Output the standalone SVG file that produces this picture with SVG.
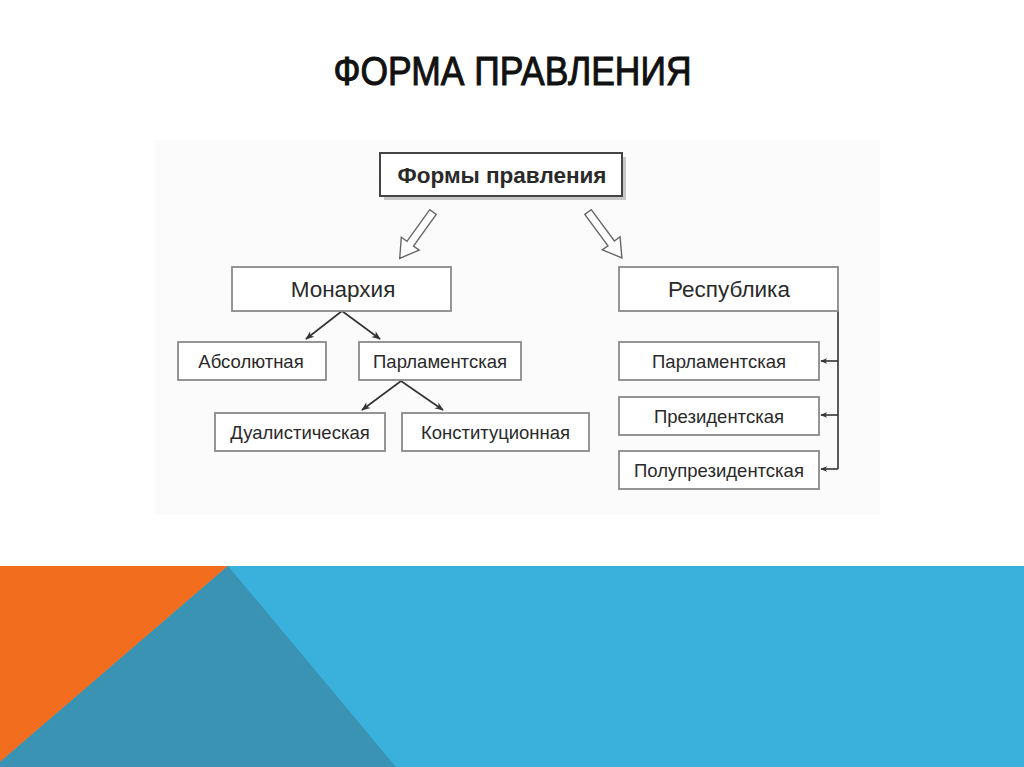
<svg xmlns="http://www.w3.org/2000/svg" width="1024" height="767" viewBox="0 0 1024 767">
<defs>
<style>
.box{fill:#fff;stroke:#8a8a8a;stroke-width:1.8}
.shadow{fill:#c8c8c8}
.t{font-family:"Liberation Sans",Arial,sans-serif;fill:#2a2a2a;text-anchor:middle}
.s{font-size:18.5px}
.conn{stroke:#333;stroke-width:1.6;fill:none}
.hollow{fill:#fff;stroke:#666;stroke-width:1.4;stroke-linejoin:miter}
</style>
<marker id="ah" viewBox="0 0 10 10" refX="9" refY="5" markerWidth="7" markerHeight="7" orient="auto" markerUnits="userSpaceOnUse">
<path d="M0,1 L10,5 L0,9 L3,5 z" fill="#333"/>
</marker>
<marker id="ah2" viewBox="0 0 10 10" refX="9" refY="5" markerWidth="9" markerHeight="9" orient="auto" markerUnits="userSpaceOnUse">
<path d="M0,1 L10,5 L0,9 L3,5 z" fill="#333"/>
</marker>
</defs>
<rect width="1024" height="767" fill="#fff"/>
<rect x="155" y="140" width="725" height="375" fill="#fbfbfb"/>
<text x="512.5" y="85" font-family="'Liberation Sans',Arial,sans-serif" font-size="40" fill="#111" stroke="#111" stroke-width="1" text-anchor="middle" textLength="358" lengthAdjust="spacingAndGlyphs">ФОРМА ПРАВЛЕНИЯ</text>

<g id="connectors">
<polygon class="hollow" points="0,-4 39,-4 39,-11 57,0 39,11 39,4 0,4" transform="translate(433,212) rotate(125.7)"/>
<polygon class="hollow" points="0,-4 39,-4 39,-11 57,0 39,11 39,4 0,4" transform="translate(588,212) rotate(53.5)"/>
<line class="conn" x1="342" y1="311" x2="306" y2="339" marker-end="url(#ah2)"/>
<line class="conn" x1="342" y1="311" x2="380" y2="339" marker-end="url(#ah2)"/>
<line class="conn" x1="401" y1="381" x2="362" y2="410" marker-end="url(#ah2)"/>
<line class="conn" x1="401" y1="381" x2="443" y2="410" marker-end="url(#ah2)"/>
<polyline class="conn" points="838,311 838,469"/>
<line class="conn" x1="838" y1="361" x2="821" y2="361" marker-end="url(#ah)"/>
<line class="conn" x1="838" y1="415" x2="821" y2="415" marker-end="url(#ah)"/>
<line class="conn" x1="838" y1="469" x2="821" y2="469" marker-end="url(#ah)"/>
</g>

<g id="root">
<rect x="384" y="157" width="242" height="43" class="shadow"/>
<rect x="380" y="153" width="242" height="43" fill="#fff" stroke="#444" stroke-width="2"/>
<text x="502" y="183" class="t" font-size="22.5" font-weight="bold">Формы правления</text>
</g>
<g id="monarchy">
<rect x="232" y="267" width="219" height="44" class="box"/>
<text x="343" y="297" class="t" font-size="22.5">Монархия</text>
</g>
<g id="republic">
<rect x="619" y="267" width="219" height="44" class="box"/>
<text x="729" y="297" class="t" font-size="22.5">Республика</text>
</g>
<g id="absolute">
<rect x="178" y="342" width="148" height="38" class="box"/>
<text x="251" y="368" class="t s">Абсолютная</text>
</g>
<g id="parl-mon">
<rect x="359" y="342" width="162" height="38" class="box"/>
<text x="440" y="368" class="t s">Парламентская</text>
</g>
<g id="dualist">
<rect x="215" y="413" width="170" height="38" class="box"/>
<text x="300" y="439" class="t s">Дуалистическая</text>
</g>
<g id="constit">
<rect x="402" y="413" width="187" height="38" class="box"/>
<text x="495.5" y="439" class="t s">Конституционная</text>
</g>
<g id="parl-rep">
<rect x="619" y="342" width="200" height="38" class="box"/>
<text x="719" y="368" class="t s">Парламентская</text>
</g>
<g id="pres">
<rect x="619" y="397" width="200" height="38" class="box"/>
<text x="719" y="423" class="t s">Президентская</text>
</g>
<g id="semipres">
<rect x="619" y="451" width="200" height="38" class="box"/>
<text x="719" y="477" class="t s">Полупрезидентская</text>
</g>

<g id="footer">
<rect x="0" y="566" width="1024" height="201" fill="#3ab1dd"/>
<polygon points="0,566 228,566 0,762" fill="#f26d1d"/>
<polygon points="228,566 0,762 0,767 396,767" fill="#3b93b4"/>
</g>
</svg>
